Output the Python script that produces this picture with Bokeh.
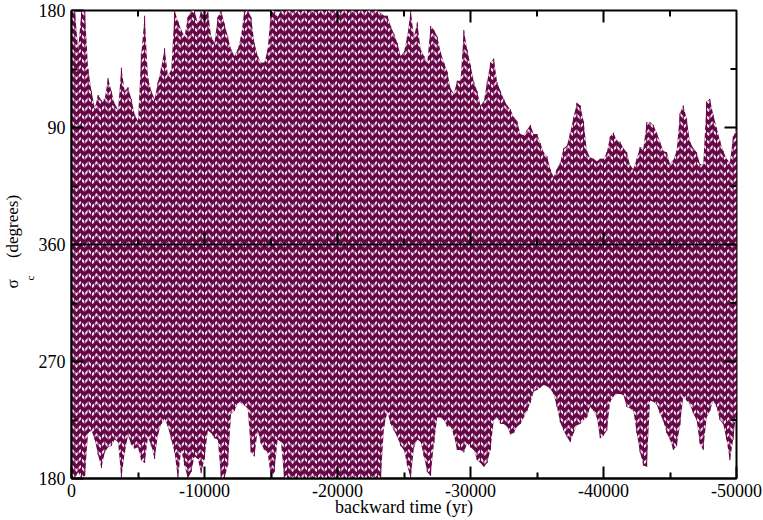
import numpy as np
from bokeh.plotting import figure
from bokeh.models import (Range1d, FixedTicker, Span, Title, ColumnDataSource)
from bokeh.embed import file_html
from bokeh.resources import INLINE

# sample grid of backward time (yr), every 250 yr
time_yr = np.arange(0, -50001, -250)

# upper envelope of sigma_c (deg, wrapped to [-180, 180])
upper_deg = [
    180, 180, 150, 180, 180, 135, 118, 105, 115, 111,
    112, 128, 118, 108, 104, 136, 118, 121, 112, 100,
    95, 147, 176, 128, 118, 112, 125, 136, 151, 130,
    134, 180, 172, 165, 160, 175, 180, 180, 170, 180,
    178, 180, 160, 155, 175, 180, 170, 160, 150, 145,
    150, 160, 180, 180, 175, 155, 145, 140, 140, 150,
    180, 180, 175, 180, 180, 180, 180,
    180, 180, 180, 180, 180, 180, 180, 180, 180, 180,
    180, 180, 180, 180, 180, 180, 180, 180, 180, 180,
    180, 180, 180, 180, 180, 180,
    178, 176, 176, 168, 162, 155, 145, 148, 160, 180,
    160, 171, 150, 145, 140, 168, 165, 160, 148, 140,
    133, 120, 116, 126, 126, 165, 150, 138, 125, 118,
    107, 110, 125, 140, 143, 125, 118, 112, 107, 104,
    98, 95, 85, 84, 88, 92, 85, 85, 78, 71,
    68, 58, 52, 58, 63, 74, 76, 86, 98, 109,
    107, 95, 72, 67, 66, 64, 66, 66, 71, 83,
    86, 80, 79, 74, 71, 61, 58, 66, 75, 74,
    94, 94, 92, 86, 79, 72, 71, 62, 65, 72,
    101, 107, 97, 79, 74, 71, 62, 62, 110, 112,
    100, 90, 80, 72, 66, 63, 83, 88,
]

# lower envelope (deg)
lower_deg = [
    -180, -180, -175, -180, -178, -145, -143, -150, -162, -172,
    -160, -156, -155, -150, -152, -180, -160, -147, -154, -157,
    -156, -166, -168, -148, -155, -165, -146, -138, -134, -140,
    -150, -160, -180, -158, -170, -180, -175, -163, -165, -176,
    -165, -143, -145, -149, -150, -180, -180, -170, -130, -128,
    -122, -122, -124, -126, -160, -163, -143, -153, -158, -160,
    -180, -175, -150, -152, -180, -180, -180,
    -180, -180, -180, -180, -180, -180, -180, -180, -180, -180,
    -180, -180, -180, -180, -180, -180, -180, -180, -180, -180,
    -180, -180, -180, -180, -180, -180, -180,
    -140, -129, -138, -143, -148, -155, -158, -170, -180,
    -156, -150, -152, -163, -175, -178, -153, -133, -133, -135,
    -140, -140, -147, -158, -158, -160, -153, -156, -158, -166,
    -168, -171, -168, -158, -135, -133, -138, -138, -140, -146,
    -145, -140, -138, -133, -128, -122, -113, -112, -110, -108,
    -109, -111, -115, -125, -137, -143, -148, -152, -145, -139,
    -138, -135, -133, -125, -128, -133, -149, -147, -143, -121,
    -117, -115, -115, -116, -125, -126, -128, -145, -160, -170,
    -171, -120, -121, -123, -130, -136, -145, -150, -158, -155,
    -139, -117, -120, -123, -130, -135, -153, -158, -133, -128,
    -120, -125, -135, -138, -150, -166, -150, -127,
]

assert len(upper_deg) == len(time_yr), (len(upper_deg), len(time_yr))
assert len(lower_deg) == len(time_yr), (len(lower_deg), len(time_yr))

x_major = [0, -10000, -20000, -30000, -40000, -50000]
x_minor = [-5000, -15000, -25000, -35000, -45000]
x_labels = {0: "0", -10000: "-10000", -20000: "-20000", -30000: "-30000",
            -40000: "-40000", -50000: "-50000"}
y_major = [-180, -90, 0, 90, 180]
y_minor = [-135, -45, 45, 135]
y_labels = {-180: "180", -90: "270", 0: "360", 90: "90", 180: "180"}

MAROON = "#670748"
FONT = "Liberation Serif"

src = ColumnDataSource(dict(t=time_yr, lo=lower_deg, hi=upper_deg))

p = figure(width=763, height=520, output_backend="svg", toolbar_location=None,
           x_range=Range1d(0, -50000), y_range=Range1d(-180, 180),
           min_border_left=70, min_border_right=27, min_border_top=10,
           min_border_bottom=42)
p.background_fill_color = "white"
p.border_fill_color = "white"
p.outline_line_color = "black"
p.outline_line_width = 2
p.xgrid.visible = False
p.ygrid.visible = False

p.varea(x="t", y1="lo", y2="hi", source=src, fill_color=MAROON,
        hatch_pattern="horizontal_wave", hatch_color="white",
        hatch_scale=8, hatch_weight=2.0, hatch_alpha=0.9)
p.segment(x0="t", y0="lo", x1="t", y1="hi", source=src,
          line_color=MAROON, line_width=1.0)

# zero line with upward ticks
p.add_layout(Span(location=0, dimension="width", line_color="black",
                  line_width=2))
inner_major = x_major[1:-1]
p.ray(x=inner_major, y=[0] * len(inner_major), length=12,
      length_units="screen", angle=np.pi / 2, line_color="black",
      line_width=2)
p.ray(x=x_minor, y=[0] * len(x_minor), length=6, length_units="screen",
      angle=np.pi / 2, line_color="black", line_width=2)

# mirrored ticks on top and right frame edges
p.ray(x=inner_major, y=[180] * len(inner_major), length=12,
      length_units="screen", angle=-np.pi / 2, line_color="black",
      line_width=2)
p.ray(x=x_minor, y=[180] * len(x_minor), length=6, length_units="screen",
      angle=-np.pi / 2, line_color="black", line_width=2)
y_inner = y_major[1:-1]
p.ray(x=[-50000] * len(y_inner), y=y_inner, length=12, length_units="screen",
      angle=np.pi, line_color="black", line_width=2)
p.ray(x=[-50000] * len(y_minor), y=y_minor, length=6, length_units="screen",
      angle=np.pi, line_color="black", line_width=2)


def style_axis(ax, ticker):
    ax.ticker = ticker
    ax.axis_line_width = 2
    ax.major_tick_line_width = 2
    ax.minor_tick_line_width = 2
    ax.major_tick_in = 12
    ax.major_tick_out = 0
    ax.minor_tick_in = 6
    ax.minor_tick_out = 0
    ax.major_label_text_font = FONT
    ax.axis_label_text_font = FONT
    ax.major_label_text_color = "black"
    ax.axis_label_text_color = "black"


xt = FixedTicker(ticks=x_major, minor_ticks=x_minor)
yt = FixedTicker(ticks=y_major, minor_ticks=y_minor)

style_axis(p.xaxis[0], xt)
p.xaxis[0].major_label_text_font_size = "18px"
p.xaxis[0].major_label_standoff = 5
p.xaxis[0].major_label_overrides = x_labels
p.xaxis[0].axis_label = "backward time (yr)"
p.xaxis[0].axis_label_text_font_size = "18px"
p.xaxis[0].axis_label_text_font_style = "normal"
p.xaxis[0].axis_label_standoff = -3

style_axis(p.yaxis[0], yt)
p.yaxis[0].major_label_text_font_size = "18px"
p.yaxis[0].major_label_standoff = 6
p.yaxis[0].major_label_overrides = y_labels

# y axis title: sigma with subscript c (two vertical titles on the left)
sub_c = Title(text="c", align="left", offset=198, standoff=0,
              text_font=FONT, text_font_size="11px",
              text_font_style="normal", text_color="black")
p.add_layout(sub_c, "left")
sig = Title(text="σ\u00a0\u00a0\u00a0\u00a0\u00a0(degrees)", align="left",
            offset=190, standoff=0, text_font=FONT, text_font_size="17px",
            text_font_style="normal", text_color="black")
p.add_layout(sig, "left")

open("out.html", "w").write(file_html(p, INLINE))
